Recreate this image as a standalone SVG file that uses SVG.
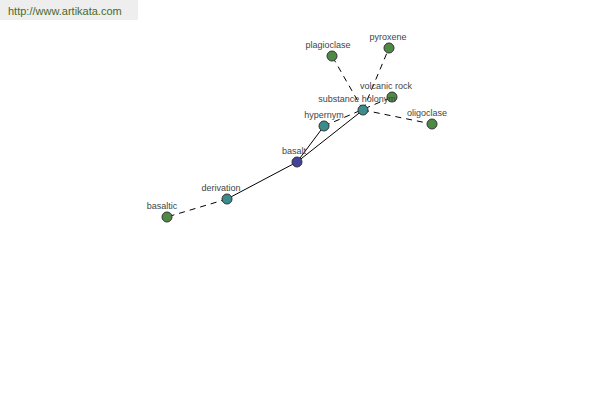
<svg xmlns="http://www.w3.org/2000/svg" width="600" height="400" viewBox="0 0 600 400">
<style>
.lbl{font-family:"Liberation Sans",Arial,sans-serif;font-size:9px;fill:#444;text-anchor:middle}
.n circle{stroke:#333;stroke-width:1}
.g{fill:#4e8a46}.t{fill:#3d8c8c}.b{fill:#43439a}
.e{stroke:#000;stroke-width:1;fill:none}
.d{stroke-dasharray:6,5}
</style>
<rect x="0" y="0" width="138" height="20" fill="#eeeeee"/>
<text x="8" y="15" style="font-family:'Liberation Sans',Arial,sans-serif;font-size:11px;fill:#4a6a2a">http://www.artikata.com</text>
<g id="connectors">
<line class="e" x1="297" y1="162" x2="324" y2="126"/>
<line class="e" x1="297" y1="162" x2="363" y2="110"/>
<line class="e" x1="297" y1="162" x2="227" y2="199"/>
<line class="e d" x1="227" y1="199" x2="167" y2="217"/>
<line class="e d" x1="324" y1="126" x2="392" y2="97"/>
<line class="e d" x1="363" y1="110" x2="332" y2="56"/>
<line class="e d" x1="363" y1="110" x2="389" y2="48"/>
<line class="e d" x1="363" y1="110" x2="432" y2="124"/>
</g>
<g id="plagioclase" class="n"><circle class="g" cx="332" cy="56" r="5"/><text class="lbl" x="328" y="48">plagioclase</text></g>
<g id="pyroxene" class="n"><circle class="g" cx="389" cy="48" r="5"/><text class="lbl" x="388" y="40">pyroxene</text></g>
<g id="volcanic_rock" class="n"><circle class="g" cx="392" cy="97" r="5"/><text class="lbl" x="386" y="89">volcanic rock</text></g>
<g id="substance_holonym" class="n"><circle class="t" cx="363" cy="110" r="5"/><text class="lbl" x="357" y="102">substance holonym</text></g>
<g id="oligoclase" class="n"><circle class="g" cx="432" cy="124" r="5"/><text class="lbl" x="427" y="116">oligoclase</text></g>
<g id="hypernym" class="n"><circle class="t" cx="324" cy="126" r="5"/><text class="lbl" x="324" y="118">hypernym</text></g>
<g id="basalt" class="n"><circle class="b" cx="297" cy="162" r="5"/><text class="lbl" x="294" y="154">basalt</text></g>
<g id="derivation" class="n"><circle class="t" cx="227" cy="199" r="5"/><text class="lbl" x="221" y="191">derivation</text></g>
<g id="basaltic" class="n"><circle class="g" cx="167" cy="217" r="5"/><text class="lbl" x="162" y="209">basaltic</text></g>
</svg>
